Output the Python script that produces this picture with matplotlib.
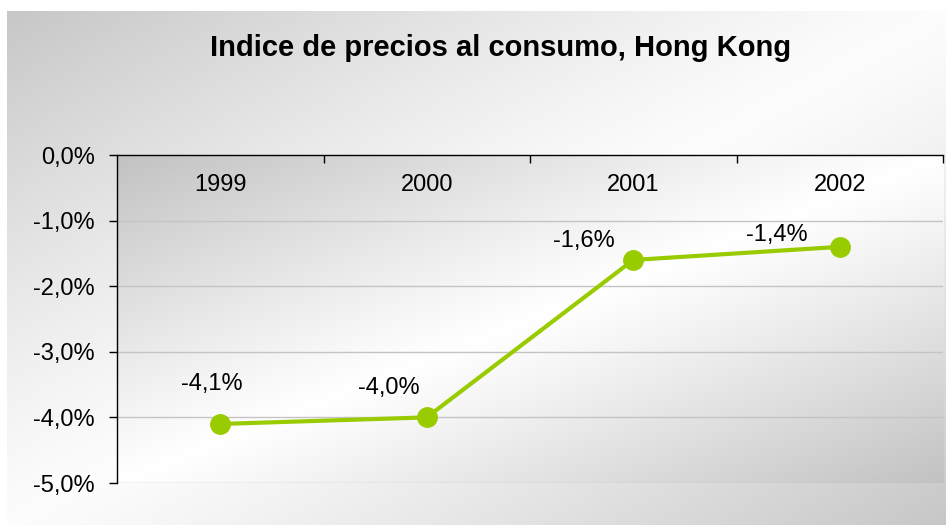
import numpy as np
import matplotlib
matplotlib.use("Agg")
import matplotlib.pyplot as plt

# data
years = ["1999", "2000", "2001", "2002"]
ipc = [-4.1, -4.0, -1.6, -1.4]
label_offsets = [(-8, 40), (-38, 29), (-49, 19), (-63, 12)]  # pixels, label vs point
yticks = [0, -1, -2, -3, -4, -5]

plt.rcParams['font.family'] = ['Liberation Sans', 'DejaVu Sans']

W, H = 946, 525
fig = plt.figure(figsize=(W / 100, H / 100), dpi=100)
fig.patch.set_facecolor('white')


def diag_gradient(nx, ny, lo, hi, power=1.0):
    u = np.linspace(0, 1, nx)[None, :]
    v = np.linspace(0, 1, ny)[:, None]
    t = (u + v) / 2.0
    k = np.abs(2 * t - 1) ** power
    g = hi - (hi - lo) * k
    return np.dstack([g, g, g])


# outer chart background
bg = fig.add_axes([7 / W, 0, (W - 7) / W, (H - 11) / H])
bg.imshow(diag_gradient(400, 220, 0.78, 0.99, 1.2), aspect='auto', interpolation='bilinear')
bg.set_axis_off()

# plot area
left, right, top, bottom = 117, 943, 155, 483
ax = fig.add_axes([left / W, 1 - bottom / H, (right - left) / W, (bottom - top) / H])
ax.set_xlim(-0.5, 3.5)
ax.set_ylim(-5, 0)
ax.imshow(diag_gradient(400, 200, 0.76, 1.0, 1.1), aspect='auto', interpolation='bilinear',
          extent=(-0.5, 3.5, -5, 0), zorder=0)

for y in yticks[1:]:
    ax.axhline(y, color='#c4c4c4', lw=1.0, zorder=1)

x = np.arange(len(years))
ax.plot(x, ipc, color='#99cc00', lw=3, marker='o', ms=14, zorder=3, clip_on=False)

for xi, v, (dx, dy) in zip(x, ipc, label_offsets):
    ax.annotate(f"{v:.1f}%".replace('.', ','), (xi, v), xytext=(dx, dy),
                textcoords='offset pixels', ha='center', va='center', fontsize=17, zorder=4)

# axes styling
for s in ['right', 'bottom']:
    ax.spines[s].set_visible(False)
ax.spines['left'].set_color('black')
ax.spines['top'].set_color('black')
ax.spines['left'].set_linewidth(1)
ax.spines['top'].set_linewidth(1)

ax.set_yticks(yticks)
ax.set_yticklabels([f"{t:.1f}%".replace('.', ',') for t in yticks], fontsize=17)
ax.tick_params(axis='y', direction='out', length=6, width=1, pad=10)

ax.set_xticks(x)
ax.set_xticklabels(years, fontsize=17)
ax.set_xticks([0.5, 1.5, 2.5, 3.5], minor=True)
ax.tick_params(axis='x', which='major', top=True, bottom=False, labeltop=True, labelbottom=False,
               length=0, pad=-14)
ax.tick_params(axis='x', which='minor', top=True, bottom=False, direction='in', length=6, width=1)
for lab in ax.get_xticklabels():
    lab.set_va('top')

fig.text(501 / W, 1 - 48 / H, "Indice de precios al consumo, Hong Kong",
         ha='center', va='center', fontsize=21, fontweight='bold')

fig.savefig('out.png', dpi=100)
